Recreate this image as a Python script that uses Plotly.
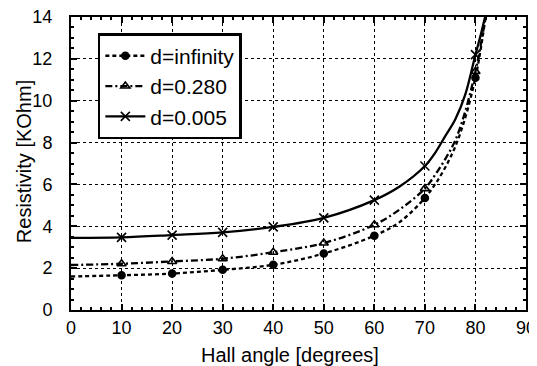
import plotly.graph_objects as go

# Hall angle (degrees) at which curves were read
angle = [0, 10, 20, 30, 40, 50, 60, 65, 70, 72, 74, 76, 78, 80, 81, 82]
res_inf = [1.60, 1.66, 1.74, 1.92, 2.16, 2.70, 3.55, 4.20, 5.35, 6.00, 6.80, 7.80, 9.20, 11.10, 12.40, 14.00]
res_280 = [2.15, 2.21, 2.32, 2.45, 2.76, 3.20, 4.07, 4.80, 5.80, 6.45, 7.20, 8.10, 9.50, 11.40, 12.60, 14.00]
res_005 = [3.45, 3.47, 3.58, 3.71, 3.97, 4.40, 5.25, 5.90, 6.88, 7.50, 8.30, 9.10, 10.30, 12.20, 13.10, 14.10]

# marker positions (every 10 degrees)
mk_angle = [10, 20, 30, 40, 50, 60, 70, 80]
mk_inf = [1.66, 1.74, 1.92, 2.16, 2.70, 3.55, 5.35, 11.10]
mk_280 = [2.21, 2.32, 2.45, 2.76, 3.20, 4.07, 5.80, 11.40]
mk_005 = [3.47, 3.58, 3.71, 3.97, 4.40, 5.25, 6.88, 12.20]

names = ["d=infinity", "d=0.280", "d=0.005"]
x_ticks = [0, 10, 20, 30, 40, 50, 60, 70, 80, 90]
y_ticks = [0, 2, 4, 6, 8, 10, 12, 14]
x_title = "Hall angle [degrees]"
y_title = "Resistivity [KOhm]"

FONT = "Liberation Sans, Arial, sans-serif"

series = [
    (names[0], res_inf, mk_inf, "4px,3px", "circle", 7),
    (names[1], res_280, mk_280, "7px,3px,2px,3px", "triangle-up-open", 8),
    (names[2], res_005, mk_005, "solid", "x-thin-open", 9),
]

fig = go.Figure()
for i, (nm, ys, mys, dash, sym, ms) in enumerate(series):
    fig.add_trace(go.Scatter(x=angle, y=ys, mode="lines", showlegend=False,
                             line=dict(color="black", width=2.3, dash=dash, shape="spline"),
                             hoverinfo="skip"))
    fig.add_trace(go.Scatter(x=mk_angle, y=mys, mode="markers", showlegend=False,
                             marker=dict(symbol=sym, size=ms, color="black",
                                         line=dict(color="black", width=1.6))))
    fig.add_trace(go.Scatter(x=[None], y=[None], mode="lines+markers", name=nm,
                             legendgroup=nm,
                             line=dict(color="black", width=2.3, dash=dash),
                             marker=dict(symbol=sym, size=ms, color="black",
                                         line=dict(color="black", width=1.6))))

axis_common = dict(
    showline=True, linecolor="black", linewidth=2, mirror="ticks",
    ticks="inside", ticklen=6, tickwidth=1.5, tickcolor="black",
    showgrid=True, gridcolor="black", gridwidth=1.3, griddash="dot",
    zeroline=False, automargin=False, ticklabeloverflow="allow",
    tickfont=dict(family=FONT, size=18, color="black"),
)

fig.update_xaxes(range=[0, 90], tickvals=x_ticks,
                 minor=dict(dtick=2, ticks="inside", ticklen=3, tickcolor="black", showgrid=False),
                 **axis_common)
fig.update_yaxes(range=[0, 14], tickvals=y_ticks, ticklabelstandoff=13,
                 minor=dict(dtick=0.5, ticks="inside", ticklen=3, tickcolor="black", showgrid=False),
                 **axis_common)

fig.add_annotation(text=x_title, xref="paper", yref="paper", x=0.481, y=-0.1536,
                   xanchor="center", yanchor="middle", showarrow=False,
                   font=dict(family=FONT, size=20, color="black"))
fig.add_annotation(text=y_title, xref="paper", yref="paper", x=-0.103, y=0.505,
                   xanchor="center", yanchor="middle", showarrow=False, textangle=-90,
                   font=dict(family=FONT, size=20, color="black"))

# page body adds an 8px offset, so the figure is sized/margined to compensate
fig.update_layout(
    width=529, height=358,
    margin=dict(l=63, r=11, t=9, b=56),
    paper_bgcolor="white", plot_bgcolor="white",
    showlegend=True,
    legend=dict(x=0.059, y=0.945, xanchor="left", yanchor="top",
                bgcolor="white", bordercolor="black", borderwidth=2.5,
                font=dict(family=FONT, size=21, color="black"),
                tracegroupgap=0, itemwidth=40),
)

fig.write_html("out.html")
